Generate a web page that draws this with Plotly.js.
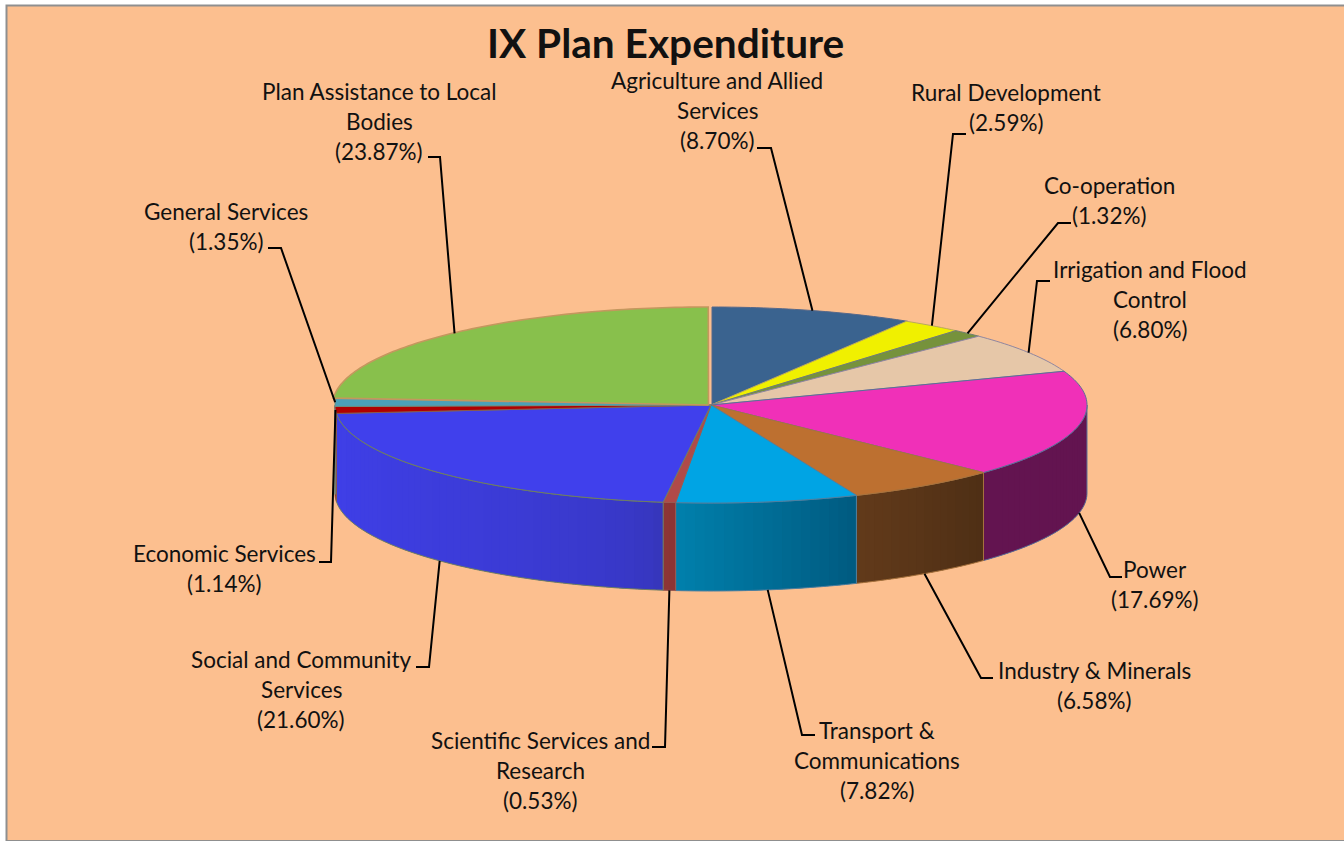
<!DOCTYPE html>
<html>
<head>
<meta charset="utf-8">
<script src="https://cdn.plot.ly/plotly-3.0.1.min.js"></script>
<style>html,body{margin:0;padding:0;background:#fff;overflow:hidden}#chart{width:1344px;height:841px}</style>
</head>
<body>
<div id="chart"></div>
<script>
// ---- data ----
const chartTitle = "IX Plan Expenditure";
const categories = [
  "Agriculture and Allied<br>Services", "Rural Development", "Co-operation",
  "Irrigation and Flood<br>Control", "Power", "Industry & Minerals",
  "Transport &<br>Communications", "Scientific Services and<br>Research",
  "Social and Community<br>Services", "Economic Services", "General Services",
  "Plan Assistance to Local<br>Bodies"
];
const shares = [8.70, 2.59, 1.32, 6.80, 17.69, 6.58, 7.82, 0.53, 21.60, 1.14, 1.35, 23.87];

// ---- styles ----
const topColors = ["#3a638f","#f0f000","#76923c","#e6c7a8","#f030b8","#bd7030","#00a4e4","#b04a48","#4040ec","#b00000","#4ba0b8","#88c04c"];
const strokeColors = ["#56688a","#b9a860","#6f7f70","#8f86a0","#5a6f98","#a8733e","#4f7f9f","#9a5a50","#6f7f60","#8a5a50","#6f8f80","#c4975e"];
const wallFrom = ["#3a638f","#f0f000","#76923c","#e6c7a8","#631450","#4e2f15","#005a80","#8c3535","#3434b4","#900000","#4ba0b8","#88c04c"];
const wallTo   = ["#3a638f","#f0f000","#76923c","#e6c7a8","#631450","#623a1a","#0080ac","#8c3535","#3f3fe8","#900000","#4ba0b8","#88c04c"];
const wallCurve = [1,1,1,1,1,1,1,1,0.4,1,1,1];
const apexOffset = [1,0,0,0,0,0,0,0,0,0,0,-2.5];
const paperColor = "#fcbf8f", frameColor = "#8f8f8f", leaderColor = "#000000", textColor = "#111111";

// ---- layout geometry (pixels of the picture) ----
const cx = 711, cy = 405, rx = 376, ry = 98, depth = 88;
// centre x of each label, y of its first line
const labelX = [717,1006,1109,1150,1155,1094,877,540,301,224,226,379];
const labelY = [80,92,185,269,569,670,730,740,659,553,211,91];
const lineStep = 30;
// elbow of each leader: outer end of the short horizontal tick, then the bend
const tickX = [757,966,1071,1050,1122,993,815,652,416,319,268,428];
const bendX = [771,953,1058,1037,1110,981,802,665,429,331,281,440];
const bendY = [148,134,223,281,577,678,735,747,667,562,248,157];
const leaderOnTop = [true,true,true,true,false,false,false,false,false,true,true,true];

const pt = (t, dz) => [cx + rx*Math.sin(t), cy - ry*Math.cos(t) + (dz||0)];
const hex = c => [1,3,5].map(i => parseInt(c.substr(i,2),16));
const mix = (a,b,f) => { const A=hex(a),B=hex(b); return "rgb("+A.map((v,i)=>Math.round(v+(B[i]-v)*f)).join(",")+")"; };
const total = 100;
const traces = [];
let acc = 0;
const spans = shares.map(v => { const s=acc; acc+=v; return [s/total*2*Math.PI, acc/total*2*Math.PI]; });

function poly(xs, ys, fill, line, w){
  traces.push({type:"scatter",mode:"lines",x:xs,y:ys,fill:"toself",fillcolor:fill,
    line:{color:line,width:w,simplify:false},hoverinfo:"skip",showlegend:false});
}
function arc(a,b,dz){
  const n=Math.max(2,Math.ceil(Math.abs(b-a)/(Math.PI/180))), P=[];
  for(let i=0;i<=n;i++) P.push(pt(a+(b-a)*i/n,dz));
  return P;
}

// side walls (only the front half is visible); overlapping strips give the shading
spans.forEach(([a,b],k)=>{
  const lo=Math.max(a,Math.PI/2), hi=Math.min(b,Math.PI*1.5);
  if(hi<=lo) return;
  const strips=Math.max(1,Math.ceil((hi-lo)/(Math.PI/120)));
  for(let i=0;i<strips;i++){
    const s=lo+(hi-lo)*i/strips, e=lo+(hi-lo)*Math.min(strips,i+2)/strips;
    const f=Math.pow((i+.5)/strips,wallCurve[k]), c=mix(wallFrom[k],wallTo[k],f);
    const P=arc(s,e,0).concat(arc(e,s,depth));
    P.push(P[0]);
    traces.push({type:"scatter",mode:"none",x:P.map(p=>p[0]),y:P.map(p=>p[1]),fill:"toself",fillcolor:c,
      hoverinfo:"skip",showlegend:false});
  }
  const O=arc(lo,hi,0).concat(arc(hi,lo,depth)); O.push(O[0]);
  traces.push({type:"scatter",mode:"lines",x:O.map(p=>p[0]),y:O.map(p=>p[1]),
    line:{color:strokeColors[k],width:1,simplify:false},hoverinfo:"skip",showlegend:false});
});

// top faces
spans.forEach(([a,b],k)=>{
  const P=arc(a,b,0), ax=cx+apexOffset[k];
  const xs=[ax].concat(P.map(p=>p[0]+apexOffset[k]),[ax]);
  const ys=[cy].concat(P.map(p=>p[1]),[cy]);
  poly(xs,ys,topColors[k],strokeColors[k],k===11?1.6:1);
});

// leader lines, each ending on the rim at the middle of its slice
spans.forEach(([a,b],k)=>{
  const m=(a+b)/2, e=pt(m,leaderOnTop[k]?0:depth);
  traces.push({type:"scatter",mode:"lines",x:[tickX[k],bendX[k],e[0]],y:[bendY[k],bendY[k],e[1]],
    line:{color:leaderColor,width:2},hoverinfo:"skip",showlegend:false});
});

// labels
const annotations=[];
const labelFont={family:"Lato, Carlito, sans-serif",size:22.5,color:textColor};
categories.forEach((name,k)=>{
  const lines=name.split("<br>").concat(["("+shares[k].toFixed(2)+"%)"]);
  lines.forEach((txt,i)=>annotations.push({xref:"x",yref:"y",x:labelX[k],y:labelY[k]+i*lineStep,
    text:txt.replace("&","&amp;"),showarrow:false,xanchor:"center",yanchor:"middle",font:labelFont,borderpad:0}));
});
annotations.push({xref:"x",yref:"y",x:665,y:42,text:"<b>"+chartTitle+"</b>",showarrow:false,
  xanchor:"center",yanchor:"middle",font:{family:"Lato, Carlito, sans-serif",size:40.6,color:textColor}});

const layout={
  width:1344,height:841,margin:{l:0,r:0,t:0,b:0,pad:0},
  paper_bgcolor:"#ffffff",plot_bgcolor:"rgba(0,0,0,0)",showlegend:false,hovermode:false,
  xaxis:{range:[0,1344],visible:false,fixedrange:true},
  yaxis:{range:[841,0],visible:false,fixedrange:true},
  shapes:[{type:"rect",layer:"below",xref:"x",yref:"y",x0:6.5,y0:5.5,x1:1360,y1:841,
    fillcolor:paperColor,line:{color:frameColor,width:2}}],
  annotations
};
Plotly.newPlot("chart",traces,layout,{staticPlot:true,displayModeBar:false});
</script>
</body>
</html>
